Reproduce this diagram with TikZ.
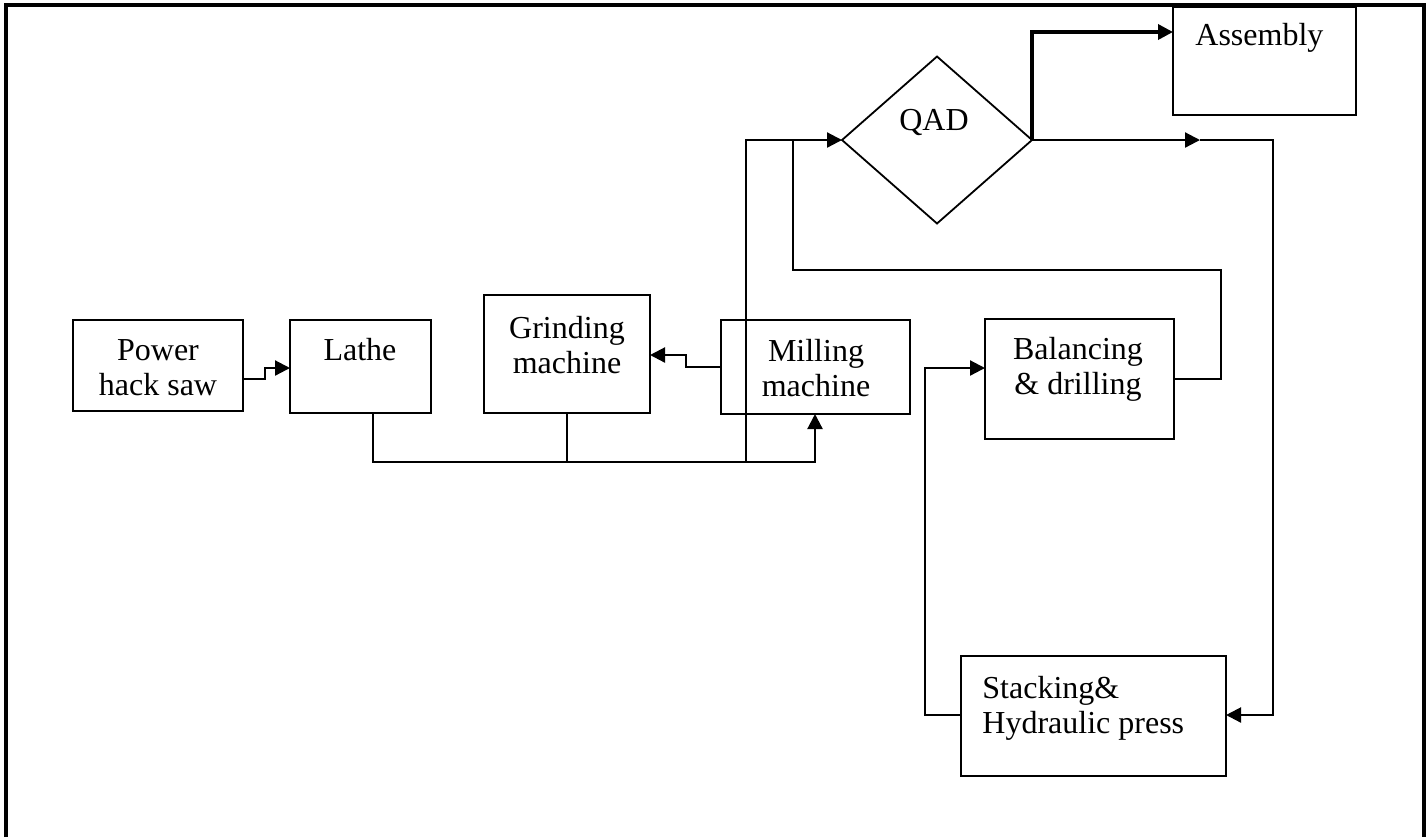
\documentclass[tikz,border=0pt]{standalone}
\usepackage{fontspec}
\setmainfont{Liberation Serif}
\usetikzlibrary{arrows.meta,shapes.geometric}
\begin{document}
\begin{tikzpicture}[x=0.5pt,y=-0.5pt,
  box/.style={draw,line width=0.9pt,inner sep=0pt,outer sep=0pt,anchor=north west},
  txt/.style={align=center,inner sep=0pt,font=\fontsize{16}{17.5}\selectfont},
  conn/.style={line width=1.1pt},
  tip/.style={-{Triangle[length=7.5pt,width=7.5pt]}},
  thick conn/.style={line width=1.7pt}]
\useasboundingbox (0,0) rectangle (1427,837);
\draw[line width=1.6pt] (6,837) -- (6,5) -- (1424,5) -- (1424,837);

% boxes
\node[box,minimum width=85pt,minimum height=45.5pt] (phs) at (73,320) {};
\node[box,minimum width=70.5pt,minimum height=46.5pt] (lathe) at (290,320) {};
\node[box,minimum width=83pt,minimum height=59pt] (grind) at (484,295) {};
\node[box,minimum width=94.5pt,minimum height=47pt] (mill) at (721,320) {};
\node[box,minimum width=94.5pt,minimum height=60pt] (bal) at (985,319) {};
\node[box,minimum width=132.5pt,minimum height=60pt] (stack) at (961,656) {};
\node[box,minimum width=91.5pt,minimum height=54pt] (asm) at (1173,7) {};
\node[draw,line width=0.9pt,diamond,inner sep=0pt,outer sep=0pt,minimum width=95pt,minimum height=83.5pt] (qad) at (937,140) {};

% texts
\node[txt] (tphs) at (158,368) {Power\\hack saw};
\node[txt] (tlathe) at (360,350) {Lathe};
\node[txt] (tgrind) at (567,345) {Grinding\\machine};
\node[txt] (tmill) at (816,368) {Milling\\machine};
\node[txt] (tbal) at (1078,369) {Balancing\\\& drilling};
\node[txt,align=left,anchor=west] (tstack) at (982,708) {Stacking\&\\Hydraulic press};
\node[txt,anchor=west] (tasm) at (1195,38) {Assembly};
\node[txt] (tqad) at (934,122) {QAD};

% coordinates
\coordinate (a1) at (265,379);
\coordinate (a2) at (265,368);
\coordinate (b1) at (686,367);
\coordinate (b2) at (686,355);
\coordinate (c1) at (373,462);
\coordinate (c2) at (567,462);
\coordinate (c3) at (746,462);
\coordinate (c4) at (815,462);
\coordinate (c5) at (746,140);
\coordinate (d1) at (1221,379);
\coordinate (d2) at (1221,270);
\coordinate (d3) at (793,270);
\coordinate (d4) at (793,140);
\coordinate (e1) at (1032,32);
\coordinate (f0) at (1200,140);
\coordinate (f1) at (1273,140);
\coordinate (f2) at (1273,715);
\coordinate (g1) at (925,715);
\coordinate (g2) at (925,368);

% connectors
\draw[conn,tip] (phs.east |- a1) -- (a1) -- (a2) -- (lathe.west |- a2);
\draw[conn,tip] (mill.west |- b1) -- (b1) -- (b2) -- (grind.east |- b2);
\draw[conn,tip] (lathe.south -| c1) -- (c1) -- (c4) -- (mill.south -| c4);
\draw[conn] (grind.south -| c2) -- (c2);
\draw[conn,tip] (c3) -- (c5) -- (qad.west);
\draw[conn] (bal.east |- d1) -- (d1) -- (d2) -- (d3) -- (d4);
\draw[thick conn,tip] (qad.east) -- (e1) -- (asm.west |- e1);
\draw[conn,tip] (qad.east) -- (f0);
\draw[conn,tip] (f0) -- (f1) -- (f2) -- (stack.east |- f2);
\draw[conn,tip] (stack.west |- g1) -- (g1) -- (g2) -- (bal.west |- g2);
\end{tikzpicture}
\end{document}
